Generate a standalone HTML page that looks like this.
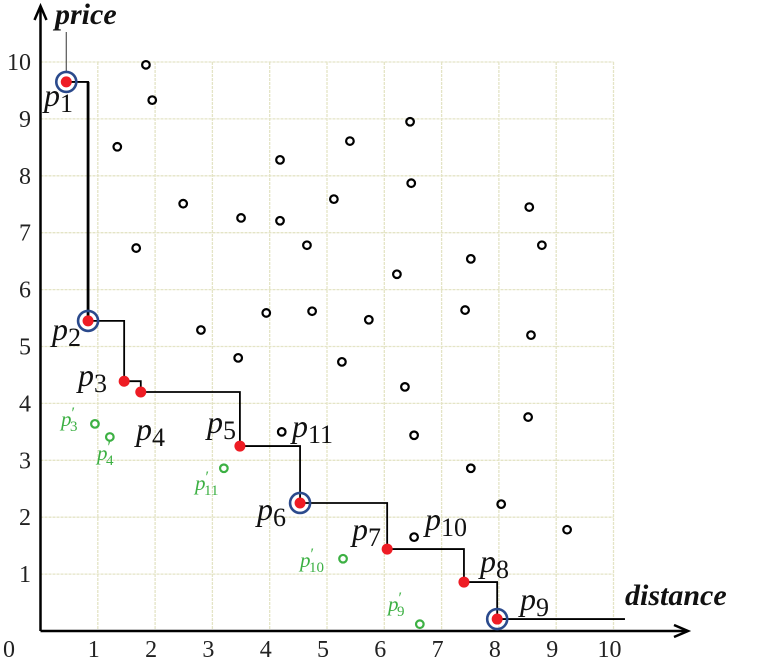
<!DOCTYPE html>
<html><head><meta charset="utf-8"><style>
html,body{margin:0;padding:0;background:#fff;}
svg{display:block;}
.tick{font-family:"Liberation Serif",serif;font-size:24px;fill:#222;}
.lbl{font-family:"Liberation Serif",serif;font-style:italic;font-size:32px;fill:#111;}
.glbl{font-family:"Liberation Serif",serif;font-style:italic;font-size:21px;fill:#3cb043;}
.ttl{font-family:"Liberation Serif",serif;font-style:italic;font-weight:bold;font-size:30px;fill:#111;}
</style></head><body>
<svg id="chart" width="760" height="663" viewBox="0 0 760 663" xmlns="http://www.w3.org/2000/svg"></svg>
<script>
const xTicks=[1,2,3,4,5,6,7,8,9,10];
const yTicks=[1,2,3,4,5,6,7,8,9,10];
const skyX=[0.45,0.83,1.46,1.75,3.48,4.53,6.05,7.39,7.97];
const skyY=[9.65,5.45,4.39,4.2,3.25,2.25,1.44,0.86,0.21];
const circled=[1,1,0,0,0,1,0,0,1];
const otherX=[1.84,1.95,1.34,2.49,1.67,2.80,3.45,3.50,4.18,4.18,3.94,4.65,4.74,5.40,5.12,5.26,5.73,6.45,6.47,6.22,6.36,6.52,7.51,7.41,7.51,8.53,8.75,8.56,8.51,8.04,9.19,6.52,4.21];
const otherY=[9.95,9.33,8.51,7.51,6.73,5.29,4.80,7.26,7.21,8.28,5.59,6.78,5.62,8.61,7.59,4.73,5.47,8.95,7.87,6.27,4.29,3.44,6.54,5.64,2.86,7.45,6.78,5.20,3.76,2.23,1.78,1.65,3.50];
const greenX=[0.95,1.21,3.20,5.28,6.62];
const greenY=[3.64,3.41,2.86,1.27,0.12];
const greenSub=["3","4","11","10","9"];
const skyEnd=10.2;

const X0=40.5,Y0=631,UX=57.3,UY=56.9;
const sx=v=>X0+v*UX, sy=v=>Y0-v*UY;
const svg=document.getElementById('chart');
const NS='http://www.w3.org/2000/svg';
function mk(t,a,p){const e=document.createElementNS(NS,t);for(const k in a)e.setAttribute(k,a[k]);(p||svg).appendChild(e);return e;}

const grid=mk('g',{});


xTicks.forEach(v=>{const l=mk('line',{x1:sx(v),x2:sx(v),y1:sy(10),y2:Y0,stroke:'#e4e4c6','stroke-width':1.3,'stroke-dasharray':'3 1'},grid);

});
yTicks.forEach(v=>{const l=mk('line',{x1:X0,x2:sx(10),y1:sy(v),y2:sy(v),stroke:'#e4e4c6','stroke-width':1.3,'stroke-dasharray':'3 1'},grid);

});

const ax=mk('g',{});


mk('line',{x1:X0,y1:Y0,x2:X0,y2:8,stroke:'#000','stroke-width':2.5},ax);
mk('polyline',{points:`${X0-6},20 ${X0},6 ${X0+6},20`,fill:'none',stroke:'#000','stroke-width':2.5},ax);
mk('line',{x1:X0,y1:Y0,x2:686,y2:Y0,stroke:'#000','stroke-width':2.5},ax);
mk('polyline',{points:`674,${Y0-6} 688,${Y0} 674,${Y0+6}`,fill:'none',stroke:'#000','stroke-width':2.5},ax);

xTicks.forEach(v=>{const t=mk('text',{x:sx(v)-4,y:657,'text-anchor':'middle',class:'tick'});t.textContent=v;

});
yTicks.forEach(v=>{const t=mk('text',{x:31,y:sy(v)+8,'text-anchor':'end',class:'tick'});t.textContent=v;

});
const z=mk('text',{x:3,y:657,class:'tick'});z.textContent='0';



const pt=mk('text',{x:55,y:24,class:'ttl'});pt.textContent='price';


const dt=mk('text',{x:625,y:605,class:'ttl'});dt.textContent='distance';


const lead=mk('line',{x1:sx(skyX[0]),x2:sx(skyX[0]),y1:32,y2:sy(skyY[0])-9,stroke:'#555','stroke-width':1.2});



let pts=[];
for(let i=0;i<skyX.length;i++){
  pts.push(`${sx(skyX[i])},${sy(skyY[i])}`);
  const nx=i<skyX.length-1?skyX[i+1]:skyEnd;
  pts.push(`${sx(nx)},${sy(skyY[i])}`);
  if(i<skyX.length-1) pts.push(`${sx(nx)},${sy(skyY[i+1])}`);
}
const st=mk('polyline',{points:pts.join(' '),fill:'none',stroke:'#000','stroke-width':1.8});


const firstDrop=mk('line',{x1:sx(skyX[1]),x2:sx(skyX[1]),y1:sy(skyY[0]),y2:sy(skyY[1]),stroke:'#000','stroke-width':2.8});



otherX.forEach((v,i)=>{const c=mk('circle',{cx:sx(v),cy:sy(otherY[i]),r:3.8,fill:'none',stroke:'#000','stroke-width':2.2});

});
greenX.forEach((v,i)=>{const c=mk('circle',{cx:sx(v),cy:sy(greenY[i]),r:3.8,fill:'none',stroke:'#3cb043','stroke-width':2.2});

});

skyX.forEach((v,i)=>{
  if(circled[i]){const r=mk('circle',{cx:sx(v),cy:sy(skyY[i]),r:10,fill:'none',stroke:'#2b4a8c','stroke-width':2.6});
  
  }
  const c=mk('circle',{cx:sx(v),cy:sy(skyY[i]),r:5.5,fill:'#ee1c24'});
  
  
});

const labX=[44,52,78,136,207,257,352,480,520,425,292];
const labY=[106,340,386,440,433,520,540,572,610,530,437];
const labSub=["1","2","3","4","5","6","7","8","9","10","11"];
labSub.forEach((s,i)=>{const t=mk('text',{x:labX[i],y:labY[i],class:'lbl'});
t.innerHTML='p<tspan font-style="normal" font-size="26" dy="6">'+s+'</tspan>';

});
const gX=[61,97,195,300,388],gY=[426,460,490,567,611];
greenSub.forEach((s,i)=>{const t=mk('text',{x:gX[i],y:gY[i],class:'glbl'});
t.innerHTML='p<tspan font-style="normal" font-size="16" dy="-8">′</tspan><tspan font-style="normal" font-size="15" dx="-5" dy="13">'+s+'</tspan>';

});
</script>
</body></html>
